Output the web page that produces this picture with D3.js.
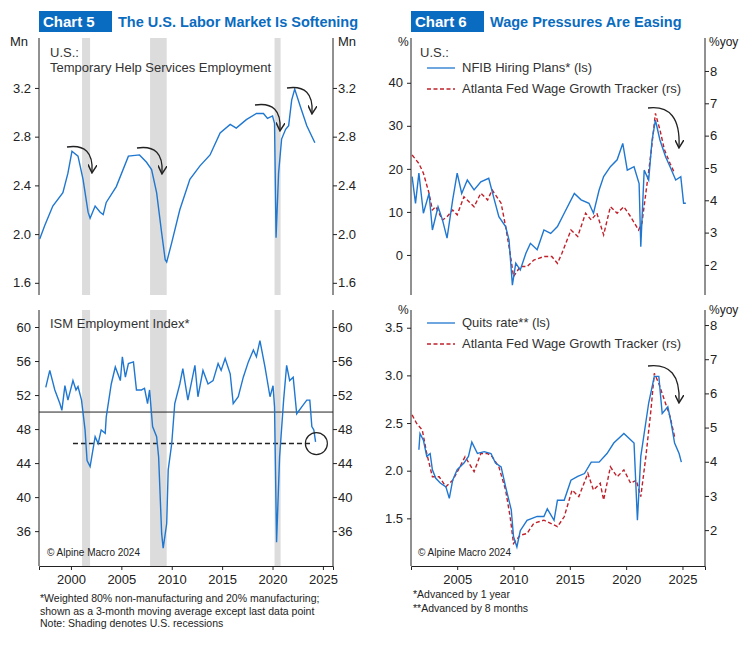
<!DOCTYPE html>
<html><head><meta charset="utf-8">
<script src="https://cdn.jsdelivr.net/npm/d3@7"></script>
<style>body{margin:0;background:#fff}text{font-family:"Liberation Sans",Arial,sans-serif}</style>
</head><body><svg id="c" width="754" height="645"></svg>
<script>
// series as [year, value]
const tempHelp = [[1996.9,1.96],[1997.4,2.07],[1998.2,2.23],[1999.2,2.34],[1999.7,2.5],[2000.1,2.68],[2000.7,2.64],[2001.2,2.45],[2001.7,2.18],[2001.9,2.13],[2002.4,2.23],[2002.9,2.18],[2003.2,2.16],[2003.5,2.26],[2004.5,2.39],[2005.7,2.64],[2006.8,2.65],[2007.5,2.59],[2008.0,2.53],[2008.5,2.34],[2009.0,2.01],[2009.35,1.79],[2009.5,1.77],[2010.0,1.93],[2010.8,2.2],[2011.8,2.45],[2012.8,2.56],[2013.8,2.65],[2014.8,2.83],[2015.8,2.9],[2016.4,2.87],[2017.4,2.94],[2018.4,2.99],[2019.1,2.99],[2019.5,2.95],[2020.0,2.97],[2020.2,2.91],[2020.35,1.97],[2020.6,2.5],[2020.9,2.78],[2021.3,2.86],[2021.6,2.89],[2021.9,3.1],[2022.2,3.19],[2022.75,3.05],[2023.4,2.89],[2024.2,2.75]];
const ism = [[1997.5,52.9],[1997.9,54.9],[1998.4,52.6],[1998.9,51.0],[1999.1,50.2],[1999.4,53.1],[1999.7,51.4],[2000.2,53.7],[2000.5,52.6],[2000.7,53.0],[2001.05,51.4],[2001.4,47.9],[2001.6,44.3],[2001.9,43.6],[2002.0,44.3],[2002.4,47.1],[2002.7,46.3],[2003.0,47.9],[2003.4,47.5],[2003.5,49.4],[2004.0,53.3],[2004.4,55.3],[2004.9,53.7],[2005.1,56.5],[2005.4,54.1],[2005.7,55.7],[2006.2,55.9],[2006.5,52.6],[2007.0,52.6],[2007.3,52.8],[2007.6,51.0],[2007.8,52.6],[2008.1,48.3],[2008.5,47.1],[2008.7,44.7],[2009.0,35.7],[2009.15,34.0],[2009.5,36.9],[2009.65,43.2],[2010.0,46.3],[2010.3,51.0],[2010.8,53.3],[2011.1,55.1],[2011.6,51.4],[2012.3,55.5],[2012.6,51.8],[2013.1,54.9],[2013.6,53.3],[2014.1,53.7],[2014.6,55.7],[2014.9,54.9],[2015.3,56.3],[2015.8,54.5],[2016.1,51.0],[2016.6,51.8],[2017.1,54.1],[2017.6,55.9],[2018.1,57.3],[2018.4,56.5],[2018.75,58.4],[2019.25,55.3],[2019.75,51.8],[2020.05,53.1],[2020.2,50.6],[2020.4,34.7],[2020.7,44.7],[2021.1,51.4],[2021.4,55.5],[2021.7,53.7],[2022.05,54.1],[2022.4,49.8],[2022.9,50.6],[2023.4,51.4],[2023.7,51.4],[2023.9,48.3],[2024.1,47.9],[2024.27,46.5]];
const nfib = [[2001.0,18.2],[2001.3,12.0],[2001.6,19.0],[2002.0,9.7],[2002.5,14.3],[2002.8,5.8],[2003.3,11.2],[2003.7,8.1],[2004.1,3.9],[2004.6,12.8],[2005.0,19.0],[2005.4,14.3],[2005.9,17.4],[2006.5,15.1],[2007.1,17.0],[2007.8,17.8],[2008.3,12.8],[2008.7,8.9],[2009.3,6.6],[2009.6,3.5],[2009.9,-7.0],[2010.2,-1.9],[2010.6,-3.5],[2011.1,0.4],[2011.5,2.7],[2012.1,1.2],[2012.7,5.8],[2013.3,5.0],[2013.9,6.6],[2014.5,9.7],[2015.4,14.3],[2016.0,12.8],[2016.7,12.0],[2017.1,9.7],[2017.6,15.1],[2018.0,18.2],[2018.6,20.5],[2019.2,22.1],[2019.7,25.9],[2020.1,19.7],[2020.7,20.5],[2021.15,16.6],[2021.3,1.9],[2021.6,19.7],[2022.0,17.4],[2022.3,26.7],[2022.6,31.3],[2023.0,26.7],[2023.5,22.8],[2023.9,20.5],[2024.4,17.4],[2024.85,18.2],[2025.1,12.0],[2025.3,12.0]];
const wageTop = [[2001.0,5.4],[2001.6,5.14],[2002.0,4.84],[2002.5,4.22],[2002.8,3.7],[2003.1,3.8],[2003.7,3.39],[2004.1,3.49],[2004.6,3.7],[2005.0,3.55],[2005.6,4.11],[2006.5,3.8],[2007.1,4.22],[2007.7,4.01],[2008.1,4.32],[2008.9,3.91],[2009.3,3.19],[2009.7,2.36],[2010.0,1.64],[2010.6,1.95],[2011.2,1.95],[2011.8,2.15],[2012.7,2.26],[2013.4,2.26],[2013.9,2.05],[2014.3,2.36],[2015.1,3.08],[2015.7,2.88],[2016.4,3.6],[2016.9,3.39],[2017.4,3.6],[2018.0,2.93],[2018.6,3.8],[2019.2,3.6],[2019.8,3.8],[2020.4,3.49],[2021.1,3.08],[2021.4,3.29],[2021.9,4.63],[2022.2,5.45],[2022.6,6.69],[2023.0,6.18],[2023.4,5.56],[2023.9,5.14],[2024.3,4.84]];
const quits = [[2001.6,2.22],[2001.7,2.39],[2002.0,2.32],[2002.3,2.15],[2002.6,2.18],[2002.8,2.01],[2003.1,1.92],[2003.5,1.87],[2004.0,1.83],[2004.3,1.71],[2004.6,1.9],[2005.0,2.01],[2005.6,2.08],[2006.0,2.15],[2006.3,2.3],[2006.8,2.18],[2007.4,2.2],[2008.0,2.18],[2008.4,2.08],[2008.9,2.04],[2009.3,1.83],[2009.8,1.59],[2010.0,1.31],[2010.3,1.2],[2010.6,1.37],[2011.2,1.48],[2012.1,1.52],[2012.7,1.52],[2013.0,1.6],[2013.6,1.48],[2013.9,1.69],[2014.5,1.69],[2015.1,1.9],[2015.7,1.94],[2016.3,1.97],[2016.9,2.09],[2017.6,2.09],[2018.3,2.18],[2018.9,2.29],[2019.8,2.39],[2020.7,2.29],[2021.0,1.48],[2021.3,2.15],[2021.6,2.39],[2022.0,2.71],[2022.5,2.99],[2022.9,2.99],[2023.2,2.6],[2023.7,2.67],[2024.0,2.5],[2024.3,2.29],[2024.7,2.18],[2024.9,2.09]];
const wageBot = [[2001.0,5.37],[2001.4,5.12],[2001.9,4.93],[2002.3,4.24],[2002.8,3.56],[2003.4,3.56],[2004.0,3.27],[2004.6,3.46],[2005.1,3.76],[2005.7,4.15],[2006.5,3.71],[2007.1,4.24],[2007.7,4.24],[2008.1,4.15],[2008.7,3.85],[2009.3,3.17],[2009.7,2.39],[2010.0,1.61],[2010.6,1.85],[2011.2,1.9],[2011.8,2.2],[2012.7,2.29],[2013.3,2.2],[2013.9,2.1],[2014.5,2.39],[2015.2,3.17],[2015.8,2.98],[2016.6,3.66],[2017.1,3.17],[2017.7,3.37],[2018.0,2.88],[2018.6,3.85],[2019.2,3.56],[2019.8,3.76],[2020.4,3.37],[2020.9,3.46],[2021.3,2.98],[2021.75,4.15],[2022.2,5.51],[2022.5,6.59],[2022.9,6.29],[2023.4,5.8],[2023.9,5.32],[2024.3,4.73]];
const recessions = [[2001.1,2001.9],[2007.85,2009.5],[2020.2,2020.8]];
const ticksTemp = [1.6,2.0,2.4,2.8,3.2];
const ticksIsm = [36,40,44,48,52,56,60];
const ticksNfib = [0,10,20,30,40];
const ticksWage = [2,3,4,5,6,7,8];
const ticksQuits = [1.5,2.0,2.5,3.0,3.5];
const yearsL = [2000,2005,2010,2015,2020,2025];
const yearsR = [2005,2010,2015,2020,2025];

const svg = d3.select("#c");
const blue = "#1f77d0", red = "#c0202a", ink = "#222";
const xL = d3.scaleLinear().domain([1996.83,2026]).range([39,333]);
const xR = d3.scaleLinear().domain([2000.9,2027]).range([411,705]);
const rowTop = [38,295], rowBot = [310,566];

function title(x, num, txt){
  svg.append("rect").attr("x",x).attr("y",11).attr("width",73).attr("height",21).attr("fill","#0a6cc0");
  svg.append("text").attr("x",x+4).attr("y",27).attr("fill","#fff").attr("font-weight","bold").attr("font-size",15).text(num);
  svg.append("text").attr("x",x+79).attr("y",27).attr("fill","#0a6cc0").attr("font-weight","bold").attr("font-size",14.5).text(txt);
}
title(39,"Chart 5","The U.S. Labor Market Is Softening");
title(411,"Chart 6","Wage Pressures Are Easing");

function frame(x, yr){
  const g = svg.append("g");
  g.append("line").attr("x1",x.range()[0]).attr("x2",x.range()[0]).attr("y1",yr[0]).attr("y2",yr[1]).attr("stroke",ink);
  g.append("line").attr("x1",x.range()[1]).attr("x2",x.range()[1]).attr("y1",yr[0]).attr("y2",yr[1]).attr("stroke",ink);
}
function yAxis(scale, x, ticks, side, fmt){
  const ax = d3.axisLeft(scale).tickValues(ticks).tickFormat(fmt).tickSize(side==="left"?4:-4).tickPadding(4);
  const g = svg.append("g").attr("transform",`translate(${x},0)`).call(ax);
  g.select(".domain").remove();
  g.selectAll("text").attr("font-size",13).attr("fill",ink).attr("font-family","Liberation Sans, Arial").attr("text-anchor",side==="left"?"end":"start");
  if(side!=="left") g.selectAll("text").attr("x",5);
  g.selectAll("line").attr("stroke",ink);
}
function xAxis(scale, y, ticks){
  const g = svg.append("g").attr("transform",`translate(0,${y})`).call(d3.axisBottom(scale).tickValues(ticks).tickFormat(d3.format("d")).tickSize(4).tickPadding(5));
  g.select(".domain").attr("stroke",ink);
  g.selectAll("text").attr("font-size",13).attr("fill",ink).attr("font-family","Liberation Sans, Arial");
  g.selectAll("line").attr("stroke",ink);
}
function shade(yr){
  svg.append("g").selectAll("rect").data(recessions).join("rect")
    .attr("x",d=>xL(d[0])).attr("width",d=>xL(d[1])-xL(d[0])).attr("y",yr[0]).attr("height",yr[1]-yr[0]).attr("fill","#dcdcdc");
}
function line(data, x, y, color, dash){
  svg.append("path").datum(data).attr("fill","none").attr("stroke",color).attr("stroke-width",1.4)
    .attr("stroke-dasharray",dash||null).attr("d",d3.line().x(d=>x(d[0])).y(d=>y(d[1])));
}
function arrow(x1,y1,x2,y2){
  const cx = x2+2, cy = y1-4;
  svg.append("path").attr("d",`M${x1},${y1} Q${cx},${cy} ${x2},${y2}`).attr("fill","none").attr("stroke",ink).attr("stroke-width",1.3).attr("marker-end","url(#ah)");
}
svg.append("defs").append("marker").attr("id","ah").attr("viewBox","0 0 10 10").attr("refX",8).attr("refY",5)
  .attr("markerWidth",7).attr("markerHeight",7).attr("orient","auto").append("path").attr("d","M0,0 L9,5 L0,10").attr("fill","none").attr("stroke",ink).attr("stroke-width",1.6);

// Chart 5 top
const yT = d3.scaleLinear().domain([1.5,3.61]).range([rowTop[1],rowTop[0]]);
shade(rowTop);
frame(xL, rowTop);
yAxis(yT,39,ticksTemp,"left",d3.format(".1f"));
yAxis(yT,333,ticksTemp,"right",d3.format(".1f"));
line(tempHelp,xL,yT,blue);
svg.append("text").attr("x",10).attr("y",46).attr("font-size",13).attr("fill",ink).text("Mn");
svg.append("text").attr("x",338).attr("y",46).attr("font-size",13).attr("fill",ink).text("Mn");
svg.append("text").attr("x",50).attr("y",57).attr("font-size",13).attr("fill","#333").text("U.S.:");
svg.append("text").attr("x",50).attr("y",72).attr("font-size",13).attr("fill","#333").text("Temporary Help Services Employment");
arrow(67,147,92,172); arrow(137,148,162,173); arrow(255,105,280,130); arrow(287,88,312,113);

// Chart 5 bottom
const yI = d3.scaleLinear().domain([31.9,62]).range([rowBot[1],rowBot[0]]);
shade(rowBot);
frame(xL, rowBot);
yAxis(yI,39,ticksIsm,"left",d3.format("d"));
yAxis(yI,333,ticksIsm,"right",d3.format("d"));
xAxis(xL,rowBot[1],yearsL);
svg.append("line").attr("x1",39).attr("x2",333).attr("y1",yI(50)).attr("y2",yI(50)).attr("stroke",ink);
svg.append("line").attr("x1",xL(2000.2)).attr("x2",xL(2024)).attr("y1",yI(46.3)).attr("y2",yI(46.3)).attr("stroke",ink).attr("stroke-width",1.5).attr("stroke-dasharray","5,3");
line(ism,xL,yI,blue);
svg.append("circle").attr("cx",xL(2024.35)).attr("cy",yI(46.3)).attr("r",11).attr("fill","none").attr("stroke",ink).attr("stroke-width",1.2);
svg.append("text").attr("x",50).attr("y",328).attr("font-size",13).attr("fill","#333").text("ISM Employment Index*");
svg.append("text").attr("x",47).attr("y",556).attr("font-size",10).attr("fill",ink).text("© Alpine Macro 2024");
["*Weighted 80% non-manufacturing and 20% manufacturing;","shown as a 3-month moving average except last data point","Note: Shading denotes U.S. recessions"]
  .forEach((t,i)=>svg.append("text").attr("x",40).attr("y",602+i*12.5).attr("font-size",10.5).attr("fill",ink).text(t));

// Chart 6 top
const yN = d3.scaleLinear().domain([-9.3,50.4]).range([rowTop[1],rowTop[0]]);
const yWT = d3.scaleLinear().domain([1.07,9.02]).range([rowTop[1],rowTop[0]]);
frame(xR, rowTop);
yAxis(yN,411,ticksNfib,"left",d3.format("d"));
yAxis(yWT,705,ticksWage,"right",d3.format("d"));
line(wageTop,xR,yWT,red,"4,2.5");
line(nfib,xR,yN,blue);
svg.append("text").attr("x",398).attr("y",46).attr("font-size",12).attr("fill",ink).text("%");
svg.append("text").attr("x",709).attr("y",46).attr("font-size",12).attr("fill",ink).text("%yoy");
function legend(y0, items){
  items.forEach((it,i)=>{
    const y = y0+i*21;
    svg.append("line").attr("x1",427).attr("x2",455).attr("y1",y-4).attr("y2",y-4).attr("stroke",it[1]).attr("stroke-width",1.3).attr("stroke-dasharray",it[2]||null);
    svg.append("text").attr("x",462).attr("y",y).attr("font-size",13).attr("fill","#333").text(it[0]);
  });
}
svg.append("text").attr("x",420).attr("y",57).attr("font-size",13).attr("fill","#333").text("U.S.:");
legend(72,[["NFIB Hiring Plans* (ls)",blue],["Atlanta Fed Wage Growth Tracker (rs)",red,"4,2.5"]]);
arrow(648,108,679,147);

// Chart 6 bottom
const yQ = d3.scaleLinear().domain([1.0,3.686]).range([rowBot[1],rowBot[0]]);
const yWB = d3.scaleLinear().domain([0.95,8.44]).range([rowBot[1],rowBot[0]]);
frame(xR, rowBot);
yAxis(yQ,411,ticksQuits,"left",d3.format(".1f"));
yAxis(yWB,705,ticksWage,"right",d3.format("d"));
xAxis(xR,rowBot[1],yearsR);
line(wageBot,xR,yWB,red,"4,2.5");
line(quits,xR,yQ,blue);
svg.append("text").attr("x",398).attr("y",314).attr("font-size",12).attr("fill",ink).text("%");
svg.append("text").attr("x",709).attr("y",314).attr("font-size",12).attr("fill",ink).text("%yoy");
legend(327,[["Quits rate** (ls)",blue],["Atlanta Fed Wage Growth Tracker (rs)",red,"4,2.5"]]);
arrow(648,366,679,402);
svg.append("text").attr("x",418).attr("y",556).attr("font-size",10).attr("fill",ink).text("© Alpine Macro 2024");
["*Advanced by 1 year","**Advanced by 8 months"].forEach((t,i)=>svg.append("text").attr("x",413).attr("y",598+i*14).attr("font-size",10.5).attr("fill",ink).text(t));
</script></body></html>
